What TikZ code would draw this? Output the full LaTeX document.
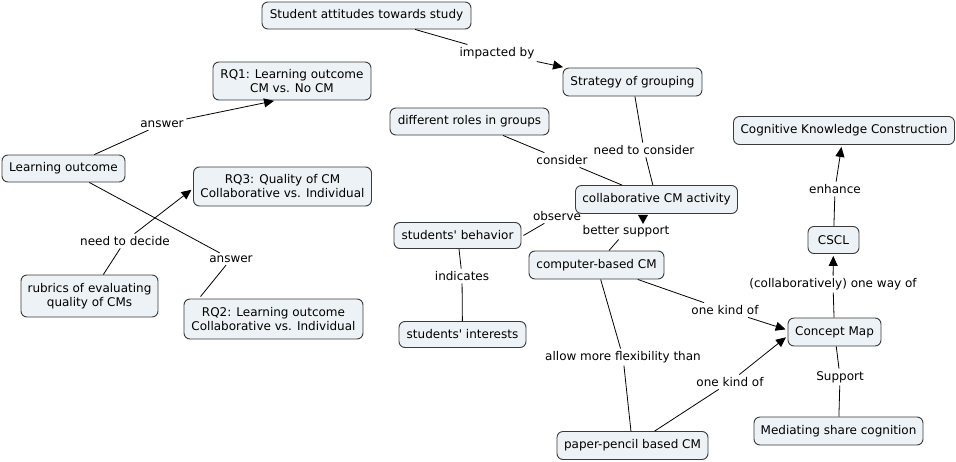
\documentclass[tikz,border=0pt]{standalone}
\usepackage{fontspec}
\setmainfont{DejaVu Sans}[Ligatures=TeXOff]
\usetikzlibrary{arrows.meta,calc}
\definecolor{boxfill}{HTML}{ECF2F5}
\definecolor{boxline}{HTML}{3A3A3A}
\begin{document}
\begin{tikzpicture}[x=1pt,y=-1pt,
  font=\fontsize{12}{14}\selectfont,
  cbox/.style={draw=boxline, fill=boxfill, rounded corners=6pt, line width=0.9pt,
     inner sep=0pt, align=center},
  lbl/.style={inner sep=2.5pt, align=center},
  conn/.style={line width=0.8pt, black},
  arr/.style={conn, -{Triangle[length=10pt,width=9pt]}, shorten >=2pt}
]
\useasboundingbox (0,0) rectangle (956,461);
% concepts
\node[cbox, minimum width=209pt, minimum height=27pt] (att) at (366.5,15.5) {Student attitudes towards study};
\node[cbox, minimum width=158pt, minimum height=38pt] (rq1) at (292,81) {RQ1: Learning outcome\\CM vs. No CM};
\node[cbox, minimum width=123pt, minimum height=27pt] (lo) at (63.5,168.5) {Learning outcome};
\node[cbox, minimum width=178pt, minimum height=39pt] (rq3) at (282.5,186.5) {RQ3: Quality of CM\\Collaborative vs. Individual};
\node[cbox, minimum width=137pt, minimum height=42pt] (rub) at (89.5,296) {rubrics of evaluating\\quality of CMs};
\node[cbox, minimum width=179pt, minimum height=40pt] (rq2) at (273.5,319) {RQ2: Learning outcome\\Collaborative vs. Individual};
\node[cbox, minimum width=139pt, minimum height=28pt] (sog) at (632.5,82) {Strategy of grouping};
\node[cbox, minimum width=159pt, minimum height=27pt] (dr) at (469.5,121.5) {different roles in groups};
\node[cbox, minimum width=162pt, minimum height=28pt] (cca) at (656.5,199.5) {collaborative CM activity};
\node[cbox, minimum width=127pt, minimum height=26pt] (sb) at (457.5,235.5) {students' behavior};
\node[cbox, minimum width=135pt, minimum height=28pt] (cbc) at (596.5,265) {computer-based CM};
\node[cbox, minimum width=127pt, minimum height=26pt] (si) at (462.5,334.5) {students' interests};
\node[cbox, minimum width=221pt, minimum height=28pt] (ckc) at (844,130.5) {Cognitive Knowledge Construction};
\node[cbox, minimum width=51pt, minimum height=27pt] (cscl) at (833.5,240) {CSCL};
\node[cbox, minimum width=93pt, minimum height=28pt] (cm) at (834.5,332) {Concept Map};
\node[cbox, minimum width=151pt, minimum height=28pt] (pp) at (632.5,445.5) {paper-pencil based CM};
\node[cbox, minimum width=169pt, minimum height=28pt] (msc) at (838.5,431) {Mediating share cognition};
% linking phrases
\node[lbl] (limp) at (497,53) {impacted by};
\node[lbl] (lans1) at (162,124) {answer};
\node[lbl] (lnd) at (125,241) {need to decide};
\node[lbl] (lans2) at (231,259) {answer};
\node[lbl] (lcons) at (562,160) {consider};
\node[lbl] (lntc) at (644,150) {need to consider};
\node[lbl] (lenh) at (835,189) {enhance};
\node[lbl] (lobs) at (557,216) {observe};
\node[lbl] (lbs) at (626,231) {better support};
\node[lbl] (lind) at (462,276) {indicates};
\node[lbl] (lway) at (833,284) {(collaboratively) one way of};
\node[lbl] (lk1) at (725,310) {one kind of};
\node[lbl] (lflex) at (623,357) {allow more flexibility than};
\node[lbl] (lk2) at (730,382) {one kind of};
\node[lbl] (lsup) at (840,377) {Support};
% connectors
\draw[conn] (att) -- (limp); \draw[arr] (limp) -- (sog);
\draw[conn] (lo) -- (lans1); \draw[arr] (lans1) -- ($(rq1.south)+(-16,0)$);
\draw[conn] (lo) -- (lans2); \draw[conn] (lans2) -- ($(rq2.north west)+(17,-2)$);
\draw[conn] (rub) -- (lnd); \draw[arr] (lnd) -- ($(rq3.west)+(0,2)$);
\draw[conn] (dr) -- (lcons); \draw[conn] (lcons) -- (cca);
\draw[conn] (sog) -- (lntc); \draw[conn] (lntc) -- (cca);
\draw[conn] ($(sb.east)+(2,0)$) -- (lobs);
\draw[conn] (cbc) -- (lbs);
\fill[black] ($(cca.south)+(-18.5,1)$) -- ++(10,0) -- ++(-5,9) -- cycle;
\draw[conn] (sb) -- (lind); \draw[conn] (lind) -- (si);
\draw[conn] (cbc) -- (lk1); \draw[arr] (lk1) -- ($(cm.west)+(0,-2)$);
\draw[conn] (pp) -- (lk2); \draw[arr] (lk2) -- ($(cm.west)+(0,4)$);
\draw[conn] (cbc) -- (lflex); \draw[conn] (lflex) -- (pp);
\draw[conn] (cm) -- (lway); \draw[arr] (lway) -- (cscl);
\draw[conn] (cscl) -- (lenh); \draw[arr] (lenh) -- (ckc);
\draw[conn] (msc) -- (lsup); \draw[conn] (lsup) -- (cm);
\end{tikzpicture}
\end{document}
